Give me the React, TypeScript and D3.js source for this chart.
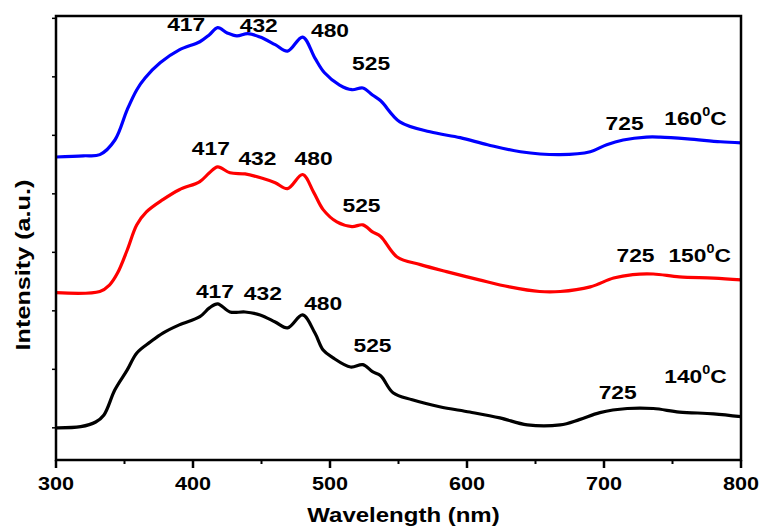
import * as d3 from 'd3'

// wavelength (nm) / intensity (a.u.)
const nm160 = [300, 320, 332, 343, 352, 359, 365, 376, 390, 405, 412, 418, 425, 432, 440, 449, 460, 469, 480, 489, 496, 507, 516, 524, 531, 537, 551, 573, 595, 615, 639, 668, 690, 702, 714, 731, 741, 761, 785, 800]
const int160 = [4630, 4650, 4670, 4920, 5440, 5780, 5980, 6240, 6460, 6600, 6720, 6840, 6750, 6700, 6740, 6680, 6550, 6440, 6680, 6320, 6070, 5860, 5780, 5810, 5690, 5590, 5230, 5060, 4960, 4840, 4720, 4670, 4720, 4840, 4920, 4970, 4970, 4940, 4890, 4870]

const nm150 = [300, 332, 339, 345, 352, 359, 366, 378, 390, 405, 412, 418, 427, 438, 450, 460, 469, 480, 488, 495, 505, 516, 524, 531, 537, 549, 566, 585, 609, 631, 653, 668, 690, 707, 721, 736, 755, 780, 800]
const int150 = [2310, 2330, 2440, 2650, 3040, 3470, 3690, 3900, 4070, 4210, 4360, 4460, 4360, 4340, 4270, 4190, 4090, 4330, 4030, 3730, 3520, 3440, 3470, 3350, 3270, 2920, 2790, 2670, 2530, 2410, 2330, 2330, 2410, 2560, 2620, 2630, 2580, 2560, 2530]

const nm140 = [300, 318, 329, 335, 343, 352, 359, 369, 378, 390, 405, 412, 418, 427, 438, 449, 460, 469, 480, 489, 495, 502, 515, 524, 531, 537, 546, 560, 580, 602, 624, 644, 668, 682, 697, 717, 736, 755, 780, 800]
const int140 = [0, 20, 100, 220, 650, 990, 1280, 1470, 1620, 1760, 1900, 2050, 2120, 1980, 1980, 1930, 1810, 1710, 1930, 1620, 1330, 1200, 1040, 1080, 960, 890, 600, 480, 360, 270, 170, 50, 50, 140, 260, 330, 330, 270, 240, 190]

const temps = ['160', '150', '140']
const peakNames = ['417', '432', '480', '525', '725']
const xTicks = [300, 400, 500, 600, 700, 800]
const xMinor = [350, 450, 550, 650, 750]
const yTicks = [0, 1000, 2000, 3000, 4000, 5000, 6000, 7000]

// where the peak names and temperatures sit, in data units [nm, a.u.]
const peakSpots = [
  [[395, 6790], [448, 6770], [500, 6680], [530, 6120], [715, 5090]],
  [[413, 4670], [447, 4500], [488, 4500], [523, 3690], [723, 2840]],
  [[416, 2220], [451, 2190], [495, 2020], [531, 1300], [710, 500]],
]
const tempSpots = [[744, 5180], [747, 2840], [744, 770]]

const W = 763, H = 526
const margin = { top: 16, right: 22, bottom: 66, left: 56 }
const font = '"Liberation Sans", Arial, Helvetica, sans-serif'
const sx = 1.2

const series = [
  { nm: nm160, val: int160, color: '#0000ff' },
  { nm: nm150, val: int150, color: '#ff0000' },
  { nm: nm140, val: int140, color: '#000000' },
]

const Wide = ({ x, y, size, anchor = 'middle', rotate = 0, children }: any) => (
  <text
    transform={`translate(${x},${y}) rotate(${rotate}) scale(${sx},1)`}
    textAnchor={anchor}
    fontSize={size}
    fontWeight='bold'
    fontFamily={font}
    fill='#000'
  >{children}</text>
)

export default function App() {
  const x = d3.scaleLinear().domain([300, 800]).range([margin.left, W - margin.right])
  const y = d3.scaleLinear().domain([-550, 7040]).range([H - margin.bottom, margin.top])
  const line = d3.line<[number, number]>()
    .x(d => x(d[0]))
    .y(d => y(d[1]))
    .curve(d3.curveCatmullRom.alpha(0.5))

  const [x0, x1] = x.range()
  const [yb, yt] = y.range()

  return (
    <svg width={W} height={H} style={{ position: 'absolute', left: 0, top: 0, background: '#fff' }}>
      {series.map((s, i) => (
        <path key={i} d={line(s.nm.map((n, j) => [n, s.val[j]]))!} fill='none'
          stroke={s.color} strokeWidth={3.2} strokeLinejoin='round' />
      ))}

      <rect x={x0} y={yt} width={x1 - x0} height={yb - yt} fill='none' stroke='#000' strokeWidth={2.5} />

      {xTicks.map(t => (
        <g key={t}>
          <line x1={x(t)} x2={x(t)} y1={yb} y2={yb + 8} stroke='#000' strokeWidth={2.5} />
          <Wide x={x(t)} y={yb + 30} size={18}>{t}</Wide>
        </g>
      ))}
      {xMinor.map(t => (
        <line key={t} x1={x(t)} x2={x(t)} y1={yb} y2={yb + 4} stroke='#000' strokeWidth={2} />
      ))}
      {yTicks.map(t => (
        <line key={t} x1={x0} x2={x0 - 4} y1={y(t)} y2={y(t)} stroke='#000' strokeWidth={1.5} />
      ))}

      {peakSpots.map((spots, i) => spots.map((p, j) => (
        <Wide key={`${i}-${j}`} x={x(p[0])} y={y(p[1])} size={19}>{peakNames[j]}</Wide>
      )))}
      {tempSpots.map((p, i) => (
        <Wide key={i} x={x(p[0])} y={y(p[1])} size={19} anchor='start'>
          {temps[i]}<tspan fontSize={12} dy={-9}>0</tspan><tspan dy={9}>C</tspan>
        </Wide>
      ))}

      <Wide x={(x0 + x1) / 2 + 5} y={H - 4} size={20}>Wavelength (nm)</Wide>
      <Wide x={30} y={265} size={21} rotate={-90}>Intensity (a.u.)</Wide>
    </svg>
  )
}
